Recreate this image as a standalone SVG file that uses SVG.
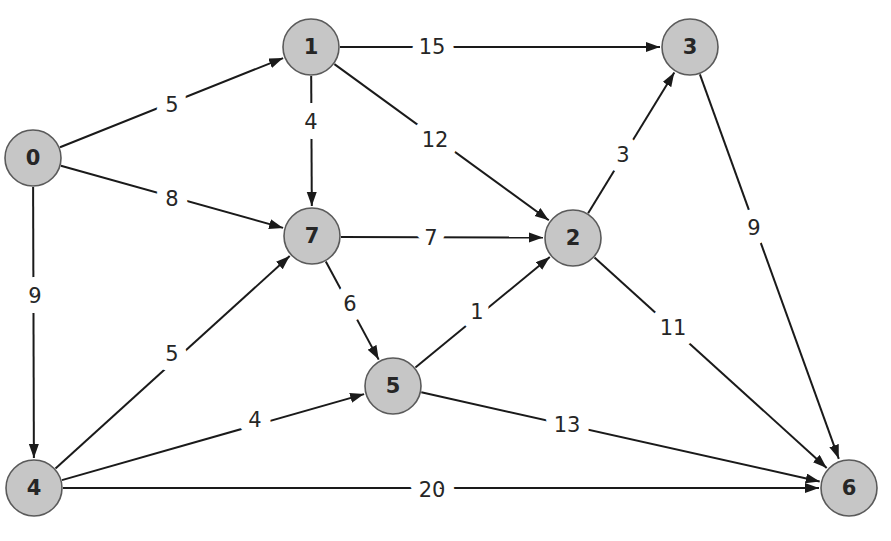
<svg xmlns="http://www.w3.org/2000/svg" width="891" height="541" viewBox="0 0 891 541">
<style>
.e{stroke:#1a1a1a;stroke-width:2;fill:none;marker-end:url(#ah)}
.n circle{fill:#c6c6c6;stroke:#5a5a5a;stroke-width:1.6}
.n text{font-family:"DejaVu Sans","Liberation Sans",sans-serif;font-size:21px;font-weight:bold;fill:#262626;text-anchor:middle;dominant-baseline:central}
.l{font-family:"DejaVu Sans","Liberation Sans",sans-serif;font-size:21px;fill:#262626;text-anchor:middle;dominant-baseline:central;stroke:#fff;stroke-width:20;paint-order:stroke;stroke-linejoin:round}
</style>
<defs>
<marker id="ah" markerUnits="userSpaceOnUse" markerWidth="15" markerHeight="11" refX="14" refY="5" orient="auto">
<path d="M0,0 L14,5 L0,10 z" fill="#1a1a1a"/>
</marker>
</defs>
<rect width="891" height="541" fill="#fff"/>
<g id="edges">
<line class="e" x1="60" y1="147.2" x2="283.1" y2="58.1"/>
<line class="e" x1="60.9" y1="165.8" x2="283.1" y2="227.9"/>
<line class="e" x1="33.1" y1="187" x2="33.9" y2="458"/>
<line class="e" x1="340" y1="47" x2="660" y2="47"/>
<line class="e" x1="311.2" y1="76" x2="311.8" y2="206"/>
<line class="e" x1="334.4" y1="64.1" x2="548.8" y2="220.3"/>
<line class="e" x1="341" y1="237" x2="543" y2="237.5"/>
<line class="e" x1="325.8" y1="261.5" x2="378.7" y2="359.6"/>
<line class="e" x1="588.1" y1="213.3" x2="674.3" y2="72.6"/>
<line class="e" x1="699.9" y1="74.3" x2="838.8" y2="458.8"/>
<line class="e" x1="594.5" y1="257.4" x2="826.7" y2="467.9"/>
<line class="e" x1="415.4" y1="367.6" x2="549.8" y2="257.1"/>
<line class="e" x1="421.3" y1="392.3" x2="819.7" y2="481.5"/>
<line class="e" x1="55.5" y1="468.6" x2="289.7" y2="256.1"/>
<line class="e" x1="61.9" y1="480.1" x2="364.1" y2="394.1"/>
<line class="e" x1="63" y1="488" x2="819" y2="488"/>
<text class="l" x="172" y="105">5</text>
<text class="l" x="172" y="199">8</text>
<text class="l" x="35" y="296">9</text>
<text class="l" x="432" y="47">15</text>
<text class="l" x="311" y="122">4</text>
<text class="l" x="435" y="140">12</text>
<text class="l" x="431" y="238">7</text>
<text class="l" x="350" y="304">6</text>
<text class="l" x="623" y="155">3</text>
<text class="l" x="754" y="228">9</text>
<text class="l" x="673" y="328">11</text>
<text class="l" x="477" y="312">1</text>
<text class="l" x="567" y="425">13</text>
<text class="l" x="172" y="354">5</text>
<text class="l" x="255" y="420">4</text>
<text class="l" x="432" y="490">20</text>
</g>
<g id="node0" class="n"><circle cx="33" cy="158" r="28"/><text x="33" y="158">0</text></g>
<g id="node1" class="n"><circle cx="311" cy="47" r="28"/><text x="311" y="47">1</text></g>
<g id="node3" class="n"><circle cx="690" cy="47" r="28"/><text x="690" y="47">3</text></g>
<g id="node7" class="n"><circle cx="312" cy="236" r="28"/><text x="312" y="236">7</text></g>
<g id="node2" class="n"><circle cx="573" cy="238" r="28"/><text x="573" y="238">2</text></g>
<g id="node5" class="n"><circle cx="393" cy="386" r="28"/><text x="393" y="386">5</text></g>
<g id="node4" class="n"><circle cx="34" cy="488" r="28"/><text x="34" y="488">4</text></g>
<g id="node6" class="n"><circle cx="849" cy="488" r="28"/><text x="849" y="488">6</text></g>
</svg>
